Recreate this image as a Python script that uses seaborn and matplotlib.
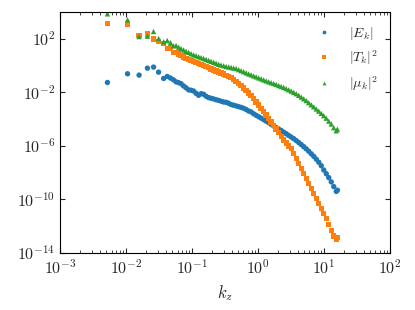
import numpy as np
import pandas as pd
import matplotlib
matplotlib.use("Agg")
import matplotlib.pyplot as plt
from matplotlib import ticker
import seaborn as sns

# wavenumbers
kz = [
    0.0052, 0.0105, 0.0157, 0.021, 0.026, 0.031, 0.037, 0.042, 0.047, 0.052,
    0.0570, 0.0622, 0.0679, 0.0741, 0.0809, 0.0883, 0.0964, 0.1052, 0.1148, 0.1252,
    0.1366, 0.149, 0.1626, 0.1775, 0.1937, 0.2114, 0.2307, 0.2518, 0.2747, 0.2998,
    0.3272, 0.357, 0.3897, 0.4252, 0.464, 0.5064, 0.5526, 0.6031, 0.6581, 0.7182,
    0.7837, 0.8553, 0.9334, 1.019, 1.111, 1.213, 1.324, 1.445, 1.576, 1.72,
    1.877, 2.049, 2.236, 2.44, 2.663, 2.906, 3.171, 3.461, 3.777, 4.122,
    4.498, 4.909, 5.357, 5.846, 6.38, 6.962, 7.598, 8.291, 9.048, 9.874,
    10.78, 11.76, 12.83, 14.0, 15.28, 15.9,
]

# log10 of the spectra
E_log = [
    -1.26, -0.61, -0.71, -0.19, -0.11, -0.49, -0.96, -0.81, -0.93, -1.06,
    -1.21, -1.27, -1.35, -1.52, -1.66, -1.81, -1.84, -1.90, -2.07, -2.22,
    -2.10, -2.14, -2.29, -2.39, -2.44, -2.49, -2.55, -2.60, -2.66, -2.72,
    -2.74, -2.81, -2.91, -2.96, -3.01, -3.07, -3.12, -3.19, -3.28, -3.39,
    -3.46, -3.60, -3.71, -3.82, -3.93, -4.04, -4.15, -4.27, -4.39, -4.51,
    -4.63, -4.74, -4.85, -4.97, -5.09, -5.22, -5.34, -5.46, -5.60, -5.75,
    -5.90, -6.06, -6.22, -6.40, -6.59, -6.78, -6.99, -7.22, -7.48, -7.80,
    -8.08, -8.37, -8.69, -9.04, -9.40, -9.31,
]
T_log = [
    3.14, 3.12, 2.25, 2.35, 1.98, 1.80, 1.63, 1.30, 1.33, 1.00,
    0.96, 0.86, 0.77, 0.65, 0.51, 0.44, 0.37, 0.30, 0.24, 0.17,
    0.10, 0.01, -0.08, -0.16, -0.24, -0.32, -0.40, -0.47, -0.55, -0.64,
    -0.74, -0.83, -0.91, -1.04, -1.18, -1.32, -1.49, -1.66, -1.84, -2.04,
    -2.25, -2.47, -2.71, -2.94, -3.19, -3.45, -3.70, -3.96, -4.22, -4.49,
    -4.75, -5.01, -5.30, -5.56, -5.78, -6.01, -6.21, -6.55, -6.93, -7.31,
    -7.70, -8.07, -8.43, -8.79, -9.16, -9.54, -9.91, -10.29, -10.66, -11.04,
    -11.43, -11.87, -12.30, -12.72, -12.96, -12.85,
]
M_log = [
    3.87, 3.42, 2.17, 2.20, 2.55, 2.02, 1.78, 1.87, 1.72, 1.48,
    1.50, 1.38, 1.27, 1.17, 1.07, 0.99, 0.89, 0.80, 0.74, 0.67,
    0.60, 0.53, 0.46, 0.39, 0.32, 0.25, 0.18, 0.10, 0.04, -0.01,
    -0.07, -0.10, -0.14, -0.18, -0.22, -0.30, -0.38, -0.46, -0.54, -0.62,
    -0.69, -0.77, -0.84, -0.92, -0.99, -1.07, -1.14, -1.21, -1.28, -1.34,
    -1.41, -1.49, -1.56, -1.63, -1.72, -1.81, -1.90, -2.00, -2.10, -2.22,
    -2.35, -2.48, -2.61, -2.77, -2.93, -3.08, -3.24, -3.40, -3.57, -3.74,
    -3.93, -4.15, -4.36, -4.64, -4.87, -4.75,
]

labels = [r"$|E_k|$", r"$|T_k|^2$", r"$|\mu_k|^2$"]

frames = []
for lab, vals in zip(labels, [E_log, T_log, M_log]):
    frames.append(pd.DataFrame({"kz": kz, "val": np.power(10.0, vals), "series": lab}))
df = pd.concat(frames, ignore_index=True)

sns.set_style("ticks")
plt.rcParams["mathtext.fontset"] = "cm"
plt.rcParams["font.family"] = ["DejaVu Serif"]

fig, ax = plt.subplots(figsize=(4.15, 3.1), dpi=100)
fig.subplots_adjust(left=0.145, right=0.94, top=0.961, bottom=0.184)

sns.scatterplot(
    data=df, x="kz", y="val", hue="series", style="series",
    hue_order=labels, style_order=labels,
    markers=["o", "s", "^"], palette=sns.color_palette("tab10", 3),
    s=15, linewidth=0, ax=ax,
)

ax.set_xscale("log")
ax.set_yscale("log")
ax.set_xlim(1e-3, 1e2)
ax.set_ylim(1e-14, 1e4)
ax.set_yticks([1e-14, 1e-10, 1e-6, 1e-2, 1e2])
ax.yaxis.set_minor_locator(ticker.NullLocator())
ax.xaxis.set_major_locator(ticker.LogLocator(base=10, numticks=10))
ax.xaxis.set_minor_locator(ticker.LogLocator(base=10, subs=np.arange(2, 10), numticks=10))
fmt = ticker.FuncFormatter(lambda v, p: r"$10^{%d}$" % round(np.log10(v)))
ax.xaxis.set_major_formatter(fmt)
ax.yaxis.set_major_formatter(fmt)
ax.tick_params(which="both", direction="in", top=True, right=True, labelsize=11.5)
ax.tick_params(axis="x", pad=4.5)
ax.set_xlabel(r"$k_z$", fontsize=12)
ax.set_ylabel("")
for sp in ax.spines.values():
    sp.set_visible(True)
    sp.set_color("black")

sns.move_legend(ax, "upper right", frameon=False, title=None, fontsize=10, markerscale=0.7)

fig.savefig("out.png", dpi=100)
